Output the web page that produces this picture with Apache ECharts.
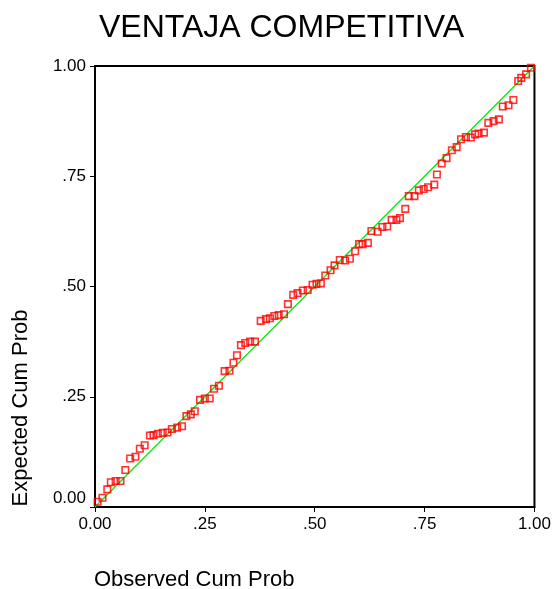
<!DOCTYPE html>
<html>
<head>
<meta charset="utf-8">
<script src="https://cdn.jsdelivr.net/npm/echarts@6/dist/echarts.min.js"></script>
<style>
html,body{margin:0;padding:0;background:#fff;}
#chart{width:554px;height:589px;}
</style>
</head>
<body>
<div id="chart"></div>
<script>
// Observed cumulative probability (x) and expected cumulative probability (y)
const observedCumProb = [
  0.006, 0.017, 0.028, 0.036, 0.047, 0.058, 0.069, 0.080, 0.092, 0.102,
  0.113, 0.125, 0.133, 0.143, 0.154, 0.165, 0.175, 0.187, 0.198, 0.208,
  0.218, 0.227, 0.239, 0.250, 0.261, 0.271, 0.282, 0.295, 0.306, 0.315,
  0.323, 0.332, 0.342, 0.353, 0.364, 0.377, 0.389, 0.398, 0.408, 0.418,
  0.430, 0.439, 0.451, 0.461, 0.473, 0.484, 0.495, 0.504, 0.514, 0.524,
  0.536, 0.545, 0.557, 0.569, 0.580, 0.592, 0.601, 0.609, 0.621, 0.629,
  0.643, 0.654, 0.665, 0.675, 0.686, 0.694, 0.706, 0.714, 0.727, 0.737,
  0.748, 0.758, 0.772, 0.778, 0.789, 0.800, 0.812, 0.823, 0.833, 0.844,
  0.855, 0.865, 0.873, 0.885, 0.895, 0.907, 0.919, 0.928, 0.941, 0.952,
  0.963, 0.970, 0.981, 0.992
];
const expectedCumProb = [
  0.012, 0.021, 0.040, 0.056, 0.059, 0.059, 0.084, 0.110, 0.114, 0.132,
  0.140, 0.162, 0.163, 0.166, 0.168, 0.169, 0.177, 0.180, 0.183, 0.206,
  0.210, 0.217, 0.243, 0.246, 0.246, 0.268, 0.275, 0.308, 0.309, 0.327,
  0.344, 0.367, 0.372, 0.375, 0.375, 0.422, 0.426, 0.428, 0.433, 0.435,
  0.437, 0.460, 0.481, 0.485, 0.491, 0.492, 0.504, 0.506, 0.507, 0.525,
  0.537, 0.548, 0.560, 0.559, 0.563, 0.580, 0.596, 0.596, 0.599, 0.626,
  0.624, 0.635, 0.636, 0.651, 0.651, 0.655, 0.676, 0.705, 0.705, 0.718,
  0.721, 0.725, 0.731, 0.754, 0.779, 0.791, 0.809, 0.816, 0.834, 0.839,
  0.838, 0.845, 0.847, 0.849, 0.871, 0.875, 0.879, 0.908, 0.911, 0.923,
  0.966, 0.973, 0.981, 0.996
];
// Reference (diagonal) line end points
const referenceLine = [[0, 0], [1, 1]];
// Tick values and labels
const tickValues = [0, 0.25, 0.5, 0.75, 1];
const tickLabels = ['0.00', '.25', '.50', '.75', '1.00'];
const chartTitle = 'VENTAJA COMPETITIVA';
const xAxisTitle = 'Observed Cum Prob';
const yAxisTitle = 'Expected Cum Prob';

const points = observedCumProb.map((x, i) => [x, expectedCumProb[i]]);
const fmt = v => {
  const idx = tickValues.findIndex(t => Math.abs(t - v) < 1e-9);
  return idx >= 0 ? tickLabels[idx] : '';
};
const FONT = '"Liberation Sans", Arial, Helvetica, sans-serif';

const chart = echarts.init(document.getElementById('chart'), null, {renderer: 'canvas'});
chart.setOption({
  animation: false,
  backgroundColor: '#ffffff',
  grid: {
    left: 95, right: 19.5, top: 66, bottom: 82,
    show: true, borderColor: '#000', borderWidth: 2, backgroundColor: 'transparent'
  },
  xAxis: {
    type: 'value', min: 0, max: 1, interval: 0.25,
    splitLine: {show: false},
    axisLine: {show: true, onZero: false, lineStyle: {color: '#000', width: 2}},
    axisTick: {show: true, inside: false, length: 5, lineStyle: {color: '#000', width: 1}},
    axisLabel: {
      show: true, margin: 9, color: '#000', fontSize: 17, fontFamily: FONT,
      formatter: fmt
    }
  },
  yAxis: {
    type: 'value', min: 0, max: 1, interval: 0.25,
    splitLine: {show: false},
    axisLine: {show: true, onZero: false, lineStyle: {color: '#000', width: 2}},
    axisTick: {show: true, inside: false, length: 5, lineStyle: {color: '#000', width: 1}},
    axisLabel: {
      show: true, margin: 9, color: '#000', fontSize: 17, fontFamily: FONT,
      verticalAlignMinLabel: 'bottom',
      formatter: fmt
    }
  },
  series: [
    {
      type: 'line',
      data: referenceLine,
      symbol: 'none',
      lineStyle: {color: '#00ee00', width: 1.3},
      silent: true,
      z: 2
    },
    {
      type: 'scatter',
      data: points,
      symbol: 'rect',
      symbolSize: 6.5,
      itemStyle: {color: 'rgba(255,255,255,0)', borderColor: '#ff0000', borderWidth: 1.6},
      z: 3
    }
  ],
  graphic: [
    {
      type: 'text', x: 281.5, y: 28,
      style: {text: chartTitle, fill: '#000', font: '32px ' + FONT, align: 'center', verticalAlign: 'middle'}
    },
    {
      type: 'text', x: 94, y: 580,
      style: {text: xAxisTitle, fill: '#000', font: '22px ' + FONT, align: 'left', verticalAlign: 'middle'}
    },
    {
      type: 'text', x: 20.5, y: 408, rotation: Math.PI / 2,
      style: {text: yAxisTitle, fill: '#000', font: '22px ' + FONT, align: 'center', verticalAlign: 'middle'}
    }
  ]
});
</script>
</body>
</html>
